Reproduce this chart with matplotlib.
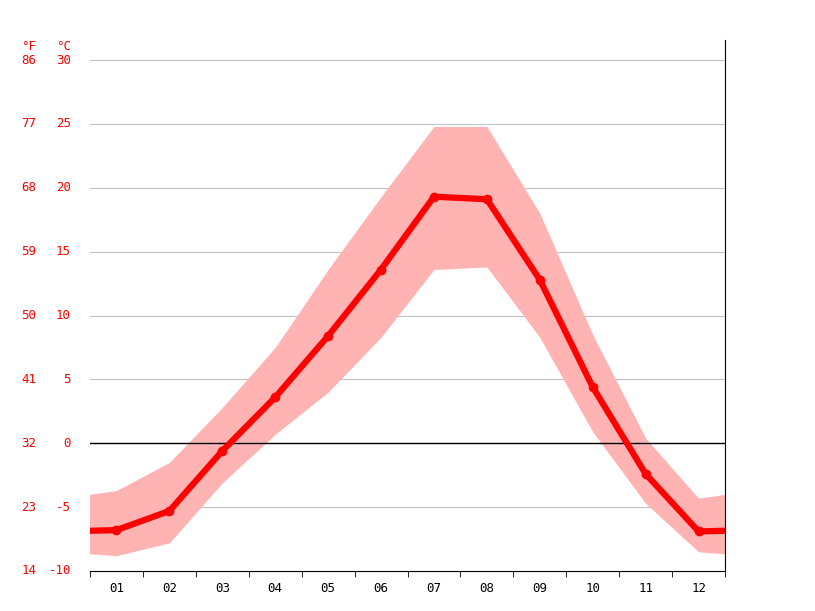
import matplotlib
matplotlib.use("Agg")
import matplotlib.pyplot as plt
import numpy as np

months = ["01", "02", "03", "04", "05", "06", "07", "08", "09", "10", "11", "12"]
t_mean = [-6.8, -5.3, -0.6, 3.6, 8.4, 13.6, 19.3, 19.1, 12.8, 4.4, -2.4, -6.9]
t_max = [-3.7, -1.5, 2.8, 7.5, 13.6, 19.3, 24.8, 24.8, 18.0, 8.5, 0.4, -4.3]
t_min = [-8.8, -7.8, -3.1, 0.7, 4.0, 8.3, 13.6, 13.8, 8.3, 0.9, -4.7, -8.5]
c_ticks = [-10, -5, 0, 5, 10, 15, 20, 25, 30]

plt.rcParams['font.family'] = 'DejaVu Sans Mono'
fig = plt.figure(figsize=(8.15, 6.11), dpi=100)
ax = fig.add_axes([90/815, 40/611, 635/815, 531/611])

# wrap december/january past the edges
x = np.arange(0, 14)
wrap = lambda v: [v[-1]] + list(v) + [v[0]]
ax.fill_between(x, wrap(t_min), wrap(t_max), color='#ffb3b3', lw=0, zorder=1)
ax.plot(x, wrap(t_mean), color='red', lw=4.5, zorder=3, solid_capstyle='round')
ax.plot(np.arange(1, 13), t_mean, 'o', color='red', ms=6, zorder=4)

ax.set_xlim(0.5, 12.5)
ax.set_ylim(-10, 30 + 20/12.775)
for c in c_ticks[1:]:
    ax.axhline(c, color='#c0c0c0', lw=0.8, zorder=0)
ax.axhline(0, color='black', lw=1, zorder=2)

ax.set_yticks([])
for c in c_ticks:
    ax.text(-0.03, c, str(c), color='red', fontsize=9, ha='right', va='center',
            transform=ax.get_yaxis_transform())
    ax.text(-0.085, c, str(round(c*9/5+32)), color='red', fontsize=9, ha='right',
            va='center', transform=ax.get_yaxis_transform())
ax.text(-0.03, 1.0, '°C', color='red', fontsize=9, ha='right', va='top', transform=ax.transAxes)
ax.text(-0.085, 1.0, '°F', color='red', fontsize=9, ha='right', va='top', transform=ax.transAxes)

ax.set_xticks(np.arange(1, 13))
ax.set_xticklabels(months, fontsize=9)
ax.tick_params(axis='x', which='major', length=0, pad=8)
ax.set_xticks(np.arange(0.5, 13), minor=True)
ax.tick_params(axis='x', which='minor', length=4, color='black')

for s in ['top', 'left']:
    ax.spines[s].set_visible(False)
ax.spines['right'].set_color('black')
ax.spines['bottom'].set_color('black')

fig.savefig('out.png', dpi=100)
